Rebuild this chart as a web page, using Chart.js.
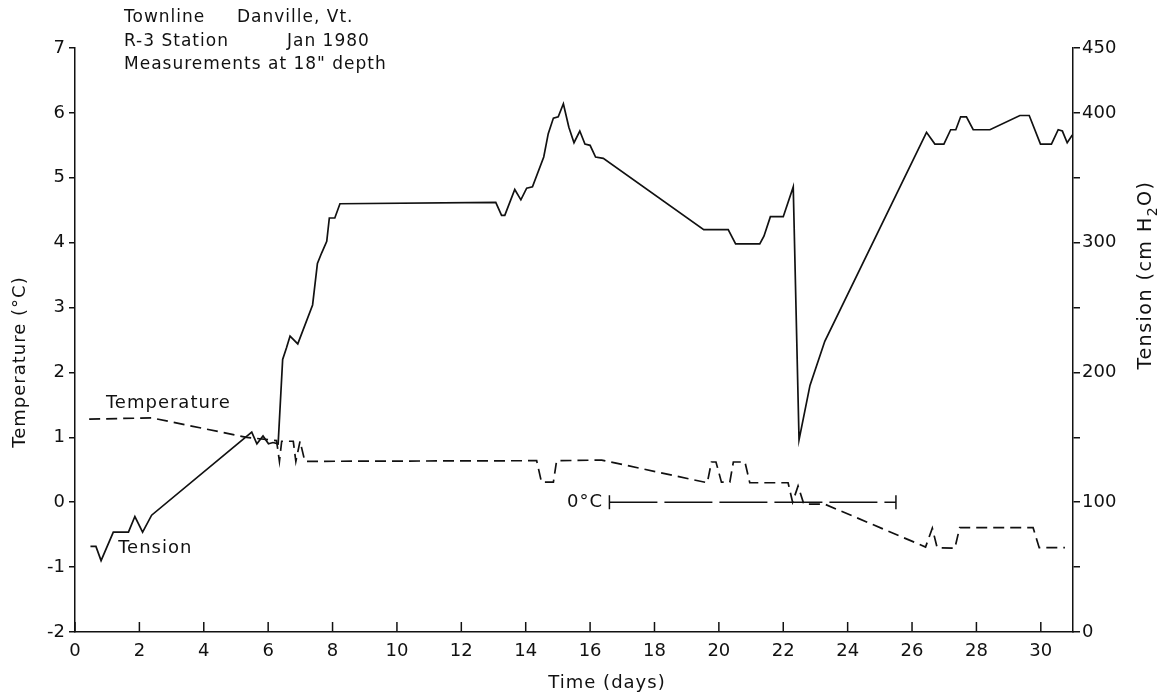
<!DOCTYPE html>
<html>
<head>
<meta charset="utf-8">
<script src="https://cdn.jsdelivr.net/npm/chart.js@4/dist/chart.umd.min.js"></script>
<style>
body{margin:0;background:#fff;}
canvas{display:block;}
</style>
</head>
<body>
<canvas id="chart" width="1163" height="694"></canvas>
<script>
// tension (cm H2O), right axis
const tensionDays = [0.48, 0.65, 0.81, 1.19, 1.66, 1.86, 2.10, 2.38, 5.49, 5.65, 5.84, 6.01, 6.15, 6.31, 6.45, 6.57, 6.68, 6.92, 7.38, 7.53, 7.66, 7.82, 7.90, 8.07, 8.23,
    13.07, 13.25, 13.35, 13.66, 13.85, 14.03, 14.21, 14.56, 14.70, 14.86, 15.01, 15.17, 15.34, 15.50, 15.68, 15.84, 16.0, 16.17, 16.41,
    19.53, 20.29, 20.52, 21.27, 21.40, 21.60, 22.0, 22.31, 22.49, 22.83, 23.29, 26.45, 26.71, 26.99, 27.20, 27.36, 27.51, 27.69, 27.90, 28.42,
    29.35, 29.64, 29.99, 30.33, 30.54, 30.67, 30.82, 30.98];
const tension = [66, 66, 55, 77, 77, 89, 77, 90, 154, 145, 151, 145, 146, 145, 210, 219, 228, 222, 252, 284, 292, 301, 319, 319, 330,
    331, 321, 321, 341, 333, 342, 343, 366, 384, 396, 397, 407, 389, 377, 386, 376, 375, 366, 365,
    310, 310, 299, 299, 305, 320, 320, 343, 148, 190, 224, 385, 376, 376, 387, 387, 397, 397, 387, 387,
    398, 398, 376, 376, 387, 386, 377, 383];

// temperature (deg C), left axis
const tempDays = [0.44, 2.38, 5.33, 6.26, 6.35, 6.42, 6.78, 6.86, 6.99, 7.14, 14.34, 14.49, 14.86, 14.96, 16.36,
    19.64, 19.77, 19.91, 20.08, 20.34, 20.45, 20.81, 20.96, 22.15, 22.29, 22.46, 22.64, 23.29,
    26.42, 26.63, 26.78, 27.33, 27.48, 29.76, 29.95, 30.75];
const temperature = [1.28, 1.30, 1.0, 0.95, 0.63, 0.94, 0.94, 0.63, 0.94, 0.63, 0.64, 0.31, 0.31, 0.64, 0.65,
    0.30, 0.62, 0.62, 0.31, 0.31, 0.62, 0.62, 0.30, 0.30, 0.0, 0.25, -0.03, -0.03,
    -0.69, -0.40, -0.70, -0.71, -0.39, -0.39, -0.70, -0.70];

// 0 deg C reference bar
const freezeDays = [16.6, 25.5];
const freezeTemp = [0, 0];

const ink = '#111';
const fontName = '"DejaVu Sans", sans-serif';

const toPoints = (xs, ys) => xs.map((x, i) => ({x: x, y: ys[i]}));

const decorations = {
    id: 'decorations',
    afterDraw(chart) {
        const ctx = chart.ctx;
        const xs = chart.scales.x;
        const ys = chart.scales.y;
        ctx.save();
        ctx.strokeStyle = ink;
        ctx.fillStyle = ink;
        ctx.lineWidth = 1.5;

        // x ticks point up into the plot
        xs.ticks.forEach(t => {
            let px = xs.getPixelForValue(t.value);
            ctx.beginPath();
            ctx.moveTo(px, xs.top);
            ctx.lineTo(px, xs.top - 10);
            ctx.stroke();
        });

        ctx.letterSpacing = '1px';
        ctx.textBaseline = 'middle';
        ctx.textAlign = 'left';

        // heading block
        ctx.font = '17px ' + fontName;
        ctx.fillText('Townline', 124, 18);
        ctx.fillText('Danville, Vt.', 237, 18);
        ctx.fillText('R-3 Station', 124, 42);
        ctx.fillText('Jan 1980', 287, 42);
        ctx.fillText('Measurements at 18" depth', 124, 65);

        // series labels
        ctx.font = '18px ' + fontName;
        ctx.fillText('Temperature', xs.getPixelForValue(0.96), ys.getPixelForValue(1.52));
        ctx.fillText('Tension', xs.getPixelForValue(1.34), ys.getPixelForValue(-0.71));
        ctx.textAlign = 'right';
        ctx.fillText('0°C', xs.getPixelForValue(16.4), ys.getPixelForValue(0));

        // axis titles
        ctx.textAlign = 'center';
        ctx.font = '18px ' + fontName;
        ctx.fillText('Time (days)', 607, 683);

        ctx.save();
        ctx.translate(20, 362);
        ctx.rotate(-Math.PI / 2);
        ctx.fillText('Temperature (°C)', 0, 0);
        ctx.restore();

        ctx.save();
        ctx.translate(1146, 275);
        ctx.rotate(-Math.PI / 2);
        ctx.textAlign = 'left';
        ctx.letterSpacing = '1.5px';
        let a = 'Tension (cm H', b = '2', c = 'O)';
        ctx.font = '19px ' + fontName;
        let wa = ctx.measureText(a).width;
        ctx.font = '14px ' + fontName;
        let wb = ctx.measureText(b).width;
        ctx.font = '19px ' + fontName;
        let wc = ctx.measureText(c).width;
        let start = -(wa + wb + wc) / 2;
        ctx.fillText(a, start, 0);
        ctx.font = '14px ' + fontName;
        ctx.fillText(b, start + wa, 7);
        ctx.font = '19px ' + fontName;
        ctx.fillText(c, start + wa + wb, 0);
        ctx.restore();

        ctx.restore();
    }
};

new Chart(
    document.getElementById('chart'),
    {
        type: 'line',
        data: {
            datasets: [
                {
                    label: 'Tension',
                    data: toPoints(tensionDays, tension),
                    yAxisID: 'y2',
                    borderColor: ink,
                    borderWidth: 1.7,
                    pointRadius: 0,
                    tension: 0
                },
                {
                    label: 'Temperature',
                    data: toPoints(tempDays, temperature),
                    yAxisID: 'y',
                    borderColor: ink,
                    borderWidth: 1.7,
                    borderDash: [11, 6],
                    pointRadius: 0,
                    tension: 0
                },
                {
                    label: '0°C',
                    data: toPoints(freezeDays, freezeTemp),
                    yAxisID: 'y',
                    borderColor: ink,
                    borderWidth: 1.4,
                    borderDash: [48, 7],
                    pointStyle: 'line',
                    pointRotation: 90,
                    pointRadius: 7,
                    pointBorderWidth: 1.5,
                    pointBorderColor: ink,
                    tension: 0
                }
            ]
        },
        options: {
            responsive: false,
            animation: false,
            layout: {padding: {top: 48}},
            plugins: {
                legend: {display: false},
                tooltip: {enabled: false}
            },
            scales: {
                x: {
                    type: 'linear',
                    min: 0,
                    max: 31,
                    afterFit: s => { s.height = 62; },
                    grid: {drawOnChartArea: false, drawTicks: false},
                    border: {color: ink, width: 1.5},
                    ticks: {
                        stepSize: 2,
                        includeBounds: false,
                        color: ink,
                        padding: 9,
                        maxRotation: 0,
                        font: {family: fontName, size: 18}
                    }
                },
                y: {
                    position: 'left',
                    min: -2,
                    max: 7,
                    afterFit: s => { s.width = 75; },
                    grid: {drawOnChartArea: false, tickLength: 6, color: ink, lineWidth: 1.5},
                    border: {color: ink, width: 1.5},
                    ticks: {
                        stepSize: 1,
                        color: ink,
                        padding: 4,
                        font: {family: fontName, size: 18}
                    }
                },
                y2: {
                    position: 'right',
                    min: 0,
                    max: 450,
                    afterFit: s => { s.width = 90; },
                    grid: {drawOnChartArea: false, tickLength: 7, color: ink, lineWidth: 1.5},
                    border: {color: ink, width: 1.5},
                    ticks: {
                        stepSize: 50,
                        color: ink,
                        padding: 2,
                        font: {family: fontName, size: 18},
                        callback: v => (v % 100 == 0 || v == 450) ? v : ''
                    }
                }
            }
        },
        plugins: [decorations]
    }
);
</script>
</body>
</html>
